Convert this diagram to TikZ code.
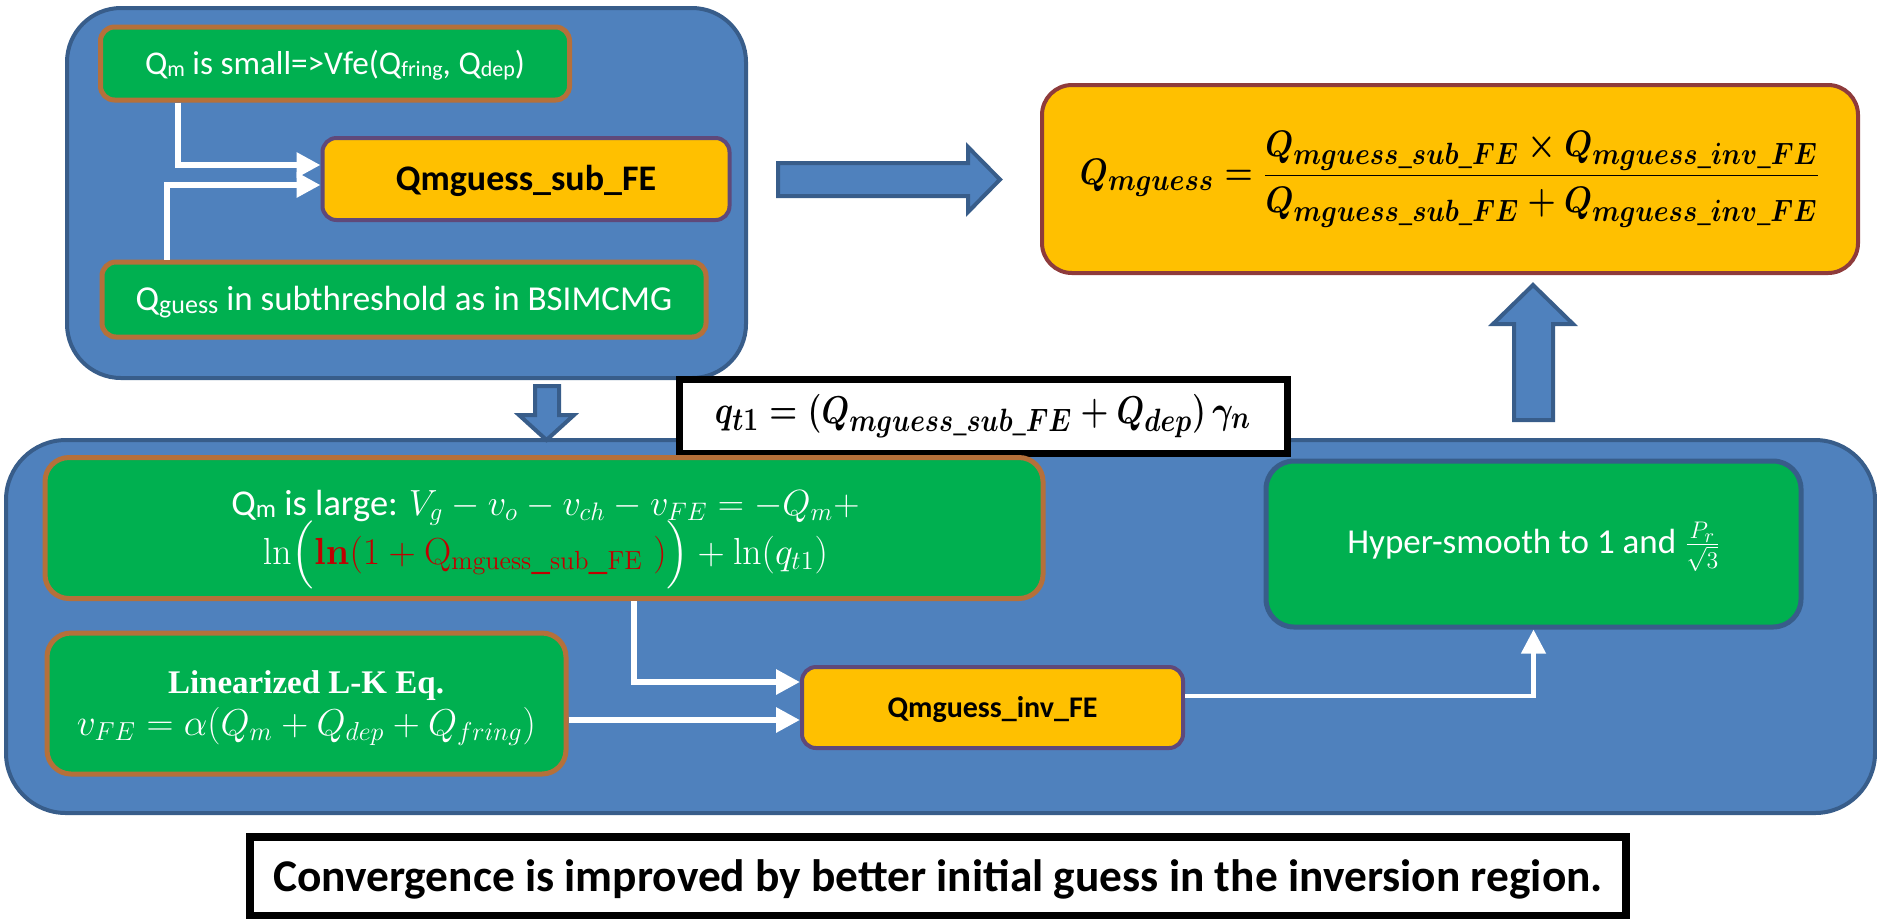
\documentclass[tikz,border=0pt]{standalone}
\usepackage[no-math]{fontspec}
\setmainfont{Carlito}
\newfontfamily\serifb{Liberation Serif}
\usepackage{amsmath}
\usepackage{graphicx}
\usetikzlibrary{arrows.meta}
\definecolor{cblue}{HTML}{4F81BD}
\definecolor{cbluedark}{HTML}{385D8A}
\definecolor{cgreen}{HTML}{00B050}
\definecolor{cbrown}{HTML}{B5703A}
\definecolor{corange}{HTML}{FFC000}
\definecolor{cpurple}{HTML}{5F497A}
\definecolor{cdred}{HTML}{8E3B3B}
\definecolor{cred}{HTML}{C00000}
\newcommand\lsub[2]{\raisebox{-0.08em}{\fontsize{#1}{12}\selectfont #2}}
\newcommand\us{\mbox{\_}}
\newcommand\bs[1]{\mbox{\fontsize{14.4}{16}\selectfont$#1$}}
\newsavebox\resbox
\newsavebox\qbox
\newsavebox\gthreea
\newsavebox\gthreeb
\newsavebox\gfoura
\newsavebox\gfourb
\newsavebox\gfiveb
\begin{document}
\sbox\resbox{\resizebox*{370pt}{48pt}{\fontsize{17.28}{22}\selectfont\mathversion{bold}$Q_{\bs{mguess}} = \dfrac{Q_{\bs{mguess\us sub\us FE}}\times Q_{\bs{mguess\us inv\us FE}}}{Q_{\bs{mguess\us sub\us FE}}+Q_{\bs{mguess\us inv\us FE}}}$}}%
\sbox\qbox{\resizebox*{268pt}{22pt}{\fontsize{17.28}{22}\selectfont\mathversion{bold}$q_{\bs{t1}} = (Q_{\bs{mguess\us sub\us FE}} + Q_{\bs{dep}})\,\gamma_{\bs{n}}$}}%
\sbox\gthreea{\resizebox{314pt}{!}{\color{white}\fontsize{17.28}{22}\selectfont Q\lsub{12}{m} is large: $V_g - v_o - v_{ch} - v_{FE} = -Q_m +$}}%
\sbox\gthreeb{\resizebox{282.5pt}{!}{\color{white}\fontsize{17.28}{22}\selectfont$\ln\Bigl(\textcolor{cred}{\mathbf{ln}(1+\mathrm{Q}_{\mathrm{mguess\us sub\us FE}}\;)}\Bigr) + \ln(q_{t1})$}}%
\sbox\gfoura{\resizebox{138pt}{!}{\color{white}\fontsize{17}{20}\selectfont\serifb\bfseries Linearized L-K Eq.}}%
\sbox\gfourb{\resizebox{229.5pt}{!}{\color{white}\fontsize{17.28}{22}\selectfont$v_{FE} = \alpha(Q_m + Q_{dep} + Q_{fring})$}}%
\sbox\gfiveb{\color{white}\fontsize{17.28}{20}\selectfont$\frac{P_r}{\sqrt{3}}$}%
\begin{tikzpicture}[x=0.5pt,y=-0.5pt,
  container/.style={draw=cbluedark, fill=cblue, line width=2pt},
  gbox/.style={draw=cbrown, fill=cgreen, line width=2.5pt, text=white, inner sep=0pt, align=center},
  obox/.style={draw=cpurple, fill=corange, line width=2pt, rounded corners=7pt, inner sep=0pt, align=center},
  rbox/.style={draw=cdred, fill=corange, line width=2pt, rounded corners=15pt, inner sep=0pt},
  txt/.style={inner sep=0pt, anchor=base, text=white},
  warrow/.style={draw=white, line width=3pt, -{Triangle[length=12pt,width=12pt]}},
  blockarrow/.style={draw=cbluedark, fill=cblue, line width=2pt, line join=miter},
  framebox/.style={draw=black, fill=white, line width=3.5pt, inner sep=0pt, align=center}]
\useasboundingbox (0,0) rectangle (1877,918);
% top container
\node[container, rounded corners=27pt, minimum width=339.5pt, minimum height=185pt] (topc) at (406.5,193) {};
\node[gbox, rounded corners=7pt, minimum width=234.5pt, minimum height=36.5pt, font=\fontsize{16.6}{20}\selectfont, text height=10.7pt, text depth=0pt] (g1) at (335,63.5) {Q\lsub{11}{m} is small=>Vfe(Q\lsub{11}{fring}, Q\lsub{11}{dep})};
\node[obox, minimum width=203.5pt, minimum height=41pt, font=\fontsize{18}{20}\selectfont\bfseries, text height=11.6pt, text depth=0pt] (osub) at (526,179) {Qmguess\_sub\_FE};
\node[gbox, rounded corners=7pt, minimum width=302pt, minimum height=37.5pt, font=\fontsize{17.5}{20}\selectfont, text height=11.3pt, text depth=0pt] (g2) at (404,299.5) {Q\lsub{13}{guess} in subthreshold as in BSIMCMG};
\coordinate (ax1) at (178,0);
\coordinate (ax2) at (167,0);
\draw[warrow] (ax1 |- g1.south) |- ([yshift=7pt]osub.west);
\draw[warrow] (ax2 |- g2.north) |- ([yshift=-3pt]osub.west);
% right block arrow
\draw[blockarrow] (778,163) -- (968,163) -- (968,147) -- (1000,179.5) -- (968,212) -- (968,196) -- (778,196) -- cycle;
% top right formula
\node[rbox, minimum width=408pt, minimum height=94pt] (res) at (1450,179) {\usebox\resbox};
% up block arrow
\draw[blockarrow] (1514,420) -- (1514,324) -- (1493,324) -- (1533,285) -- (1573,324) -- (1553,324) -- (1553,420) -- cycle;
% bottom container
\node[container, rounded corners=30pt, minimum width=934.5pt, minimum height=186.5pt] (botc) at (940.5,626.5) {};
% down block arrow
\draw[blockarrow] (535,386) -- (559,386) -- (559,415) -- (574,415) -- (546.5,440) -- (519,415) -- (535,415) -- cycle;
% q_t1 box
\node[framebox, minimum width=304pt, minimum height=37pt] (qt) at (983,416) {\usebox\qbox};
% green boxes
\node[gbox, rounded corners=12pt, minimum width=499pt, minimum height=70.5pt] (g3) at (544,528) {};
\node[txt] (g3a) at (545.5,515) {\usebox\gthreea};
\node[txt] (g3b) at (545.5,564) {\usebox\gthreeb};
\node[gbox, rounded corners=12pt, minimum width=259.5pt, minimum height=70.5pt] (g4) at (306.5,703.5) {};
\node[txt] (g4a) at (306,693) {\usebox\gfoura};
\node[txt] (g4b) at (306.5,735) {\usebox\gfourb};
\node[obox, minimum width=190.5pt, minimum height=40.5pt, font=\fontsize{15}{18}\selectfont\bfseries, text height=9.7pt, text depth=0pt] (oinv) at (992.5,707.5) {Qmguess\_inv\_FE};
\node[gbox, draw=cbluedark, rounded corners=14pt, minimum width=267.5pt, minimum height=83pt] (g5) at (1533.5,544) {};
\node[txt, font=\fontsize{17.5}{20}\selectfont] (g5a) at (1534,553) {Hyper-smooth to 1 and \usebox\gfiveb};
% white connectors
\coordinate (ax3) at (634,0);
\coordinate (ay4) at (0,720);
\draw[warrow] (ax3 |- g3.south) |- ([yshift=12.75pt]oinv.west);
\draw[warrow] (g4.east |- ay4) -- (oinv.west |- ay4);
\draw[warrow, line width=2.2pt] ([yshift=5.75pt]oinv.east) -| (g5.south);
% caption
\node[framebox, line width=4pt, minimum width=688pt, minimum height=39.5pt, font=\fontsize{22.7}{26}\selectfont\bfseries, text height=14.6pt, text depth=0pt] (cap) at (938,876.5) {Convergence is improved by better initial guess in the inversion region.};
\end{tikzpicture}
\end{document}
